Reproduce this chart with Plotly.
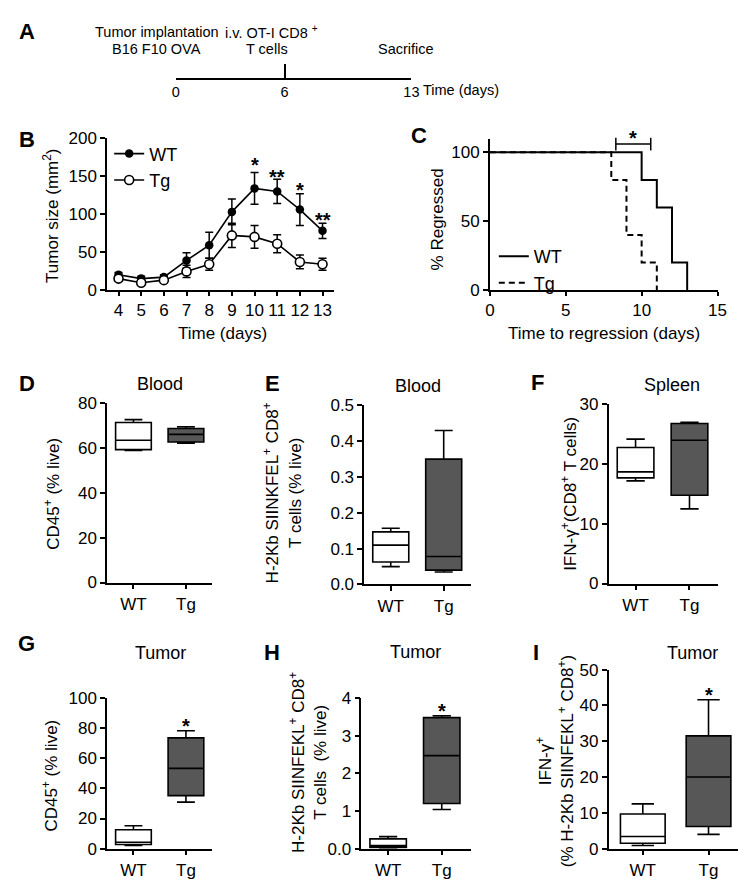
import plotly.graph_objects as go

W, H = 746, 881
def fx(p): return p / W
def fy(p): return 1 - p / H

FONT = "Arial, Liberation Sans, sans-serif"
BOLD = "Arial, Liberation Sans, sans-serif"
TS = 17  # general text size

# ---------------- data ----------------
# A timeline
timeline_days = [0, 6, 13]
timeline_labels = ["0", "6", "13"]

# B tumor growth
b_days = [4, 5, 6, 7, 8, 9, 10, 11, 12, 13]
b_wt = [20, 15, 17, 39, 59, 103, 134, 130, 106, 78]
b_wt_err = [3, 3, 3, 10, 17, 17, 21, 16, 21, 10]
b_tg = [15, 9.5, 13, 24.5, 34, 72, 70, 61, 37, 34]
b_tg_err = [3, 3, 3, 8, 8, 16, 15, 12, 9, 8]
b_sig_days = [10, 11, 12, 13]
b_sig_text = ["*", "**", "*", "**"]
b_sig_y = [171, 156, 138, 99]

# C regression
c_wt_days = [0, 10, 11, 12, 13]
c_wt_pct = [100, 80, 60, 20, 0]
c_tg_days = [0, 8, 9, 10, 11]
c_tg_pct = [100, 80, 40, 20, 0]
c_sig_days = [8.3, 10.6]
c_sig_y = 106
c_star_x, c_star_y = 9.45, 114
c_ymax = 109.5

# D–I box stats: [lower whisker, q1, median, q3, upper whisker]
groups = ["WT", "Tg"]
d_wt = [59.0, 59.4, 63.6, 71.5, 72.8]
d_tg = [62.3, 62.8, 66.2, 68.8, 69.6]
e_wt = [0.05, 0.063, 0.11, 0.147, 0.157]
e_tg = [0.035, 0.04, 0.078, 0.35, 0.43]
f_wt = [17.2, 17.7, 18.7, 22.8, 24.2]
f_tg = [12.5, 14.8, 24.0, 26.8, 27.0]
g_wt = [2.2, 2.8, 4.3, 12.6, 15.2]
g_tg = [30.9, 35.2, 53.3, 73.5, 78.3]
h_wt = [0.02, 0.035, 0.08, 0.26, 0.32]
h_tg = [1.04, 1.2, 2.47, 3.48, 3.53]
i_wt = [0.9, 1.5, 3.4, 9.7, 12.5]
i_tg = [4.0, 6.2, 20.0, 31.5, 41.6]
g_star_y = 84.8
h_star_y = 3.79
i_star_y = 44.4

# ---------------- figure ----------------
fig = go.Figure()
layout = dict(width=W, height=H, margin=dict(l=0, r=0, t=0, b=0),
              paper_bgcolor="white", plot_bgcolor="white",
              font=dict(family=FONT, size=TS, color="black"),
              showlegend=True)

def axes(idx, xd, yd, xr, yr, xtv=None, xtt=None, ytv=None, ytt=None):
    sx = "" if idx == 1 else str(idx)
    common = dict(showline=True, linecolor="black", linewidth=1.6, ticks="outside",
                  ticklen=5, tickwidth=1.6, tickcolor="black", showgrid=False,
                  zeroline=False, tickfont=dict(size=TS, color="black", family=FONT),
                  fixedrange=True)
    xa = dict(domain=[fx(xd[0]), fx(xd[1])], range=xr, anchor="y" + sx, **common)
    ya = dict(domain=[fy(yd[0]), fy(yd[1])], range=yr, anchor="x" + sx, **common)
    if xtv is not None:
        xa.update(tickmode="array", tickvals=xtv, ticktext=xtt)
    if ytv is not None:
        ya.update(tickmode="array", tickvals=ytv, ticktext=ytt)
    layout["xaxis" + sx] = xa
    layout["yaxis" + sx] = ya

# A
axes(1, (166, 406), (62, 50), [0, 13], [0, 1], timeline_days, timeline_labels)
layout["xaxis"].update(ticks="inside", ticklen=14, tickfont=dict(size=14.5, color="black", family=FONT))
layout["yaxis"].update(visible=False)
fig.add_trace(go.Scatter(x=timeline_days, y=[0, 0, 0], mode="markers", marker=dict(opacity=0),
                         xaxis="x", yaxis="y", showlegend=False, hoverinfo="skip"))

# B
axes(2, (96, 327), (279, 124), [3.5, 13.5], [0, 200], b_days, [str(d) for d in b_days],
     [0, 50, 100, 150, 200], ["0", "50", "100", "150", "200"])
layout["xaxis2"].update(ticklen=4)
fig.add_trace(go.Scatter(x=b_days, y=b_wt, mode="lines+markers", name="WT",
                         line=dict(color="black", width=1.6),
                         marker=dict(color="black", size=8.5),
                         error_y=dict(type="data", array=b_wt_err, color="black", thickness=1.5, width=4),
                         xaxis="x2", yaxis="y2", legend="legend"))
fig.add_trace(go.Scatter(x=b_days, y=b_tg, mode="lines+markers", name="Tg",
                         line=dict(color="black", width=1.6),
                         marker=dict(color="white", size=9, line=dict(color="black", width=1.6)),
                         error_y=dict(type="data", array=b_tg_err, color="black", thickness=1.5, width=4),
                         xaxis="x2", yaxis="y2", legend="legend"))

# C
axes(3, (486, 718), (279, 125), [0, 15], [0, c_ymax], [0, 5, 10, 15], ["0", "5", "10", "15"],
     [0, 50, 100], ["0", "50", "100"])
layout["xaxis3"].update(ticklen=4)
fig.add_trace(go.Scatter(x=c_wt_days, y=c_wt_pct, mode="lines", name="WT", line_shape="hv",
                         line=dict(color="black", width=2), xaxis="x3", yaxis="y3", legend="legend2"))
fig.add_trace(go.Scatter(x=c_tg_days, y=c_tg_pct, mode="lines", name="Tg", line_shape="hv",
                         line=dict(color="black", width=2, dash="6px,4px"),
                         xaxis="x3", yaxis="y3", legend="legend2"))
fig.add_trace(go.Scatter(x=c_sig_days, y=[c_sig_y, c_sig_y], mode="lines+markers",
                         line=dict(color="black", width=1.5), cliponaxis=False,
                         marker=dict(symbol="line-ns", size=9, line=dict(color="black", width=1.5)),
                         xaxis="x3", yaxis="y3", showlegend=False, hoverinfo="skip"))

# Box panels
box_specs = [
    (4, (96, 203), (578, 395), [-0.5, 1.5], [0, 80], [0, 20, 40, 60, 80], ["0", "20", "40", "60", "80"], d_wt, d_tg),
    (5, (358, 467), (580, 397), [-0.5, 1.52], [0, 0.5], [0, 0.1, 0.2, 0.3, 0.4, 0.5],
     ["0.0", "0.1", "0.2", "0.3", "0.4", "0.5"], e_wt, e_tg),
    (6, (607, 718), (579, 396), [-0.5, 1.52], [0, 30], [0, 10, 20, 30], ["0", "10", "20", "30"], f_wt, f_tg),
    (7, (96, 203), (850, 696), [-0.5, 1.5], [0, 100], [0, 20, 40, 60, 80, 100],
     ["0", "20", "40", "60", "80", "100"], g_wt, g_tg),
    (8, (355, 467), (850, 696), [-0.5, 1.55], [0, 4], [0, 1, 2, 3, 4], ["0.0", "1", "2", "3", "4"], h_wt, h_tg),
    (9, (607, 745), (850, 667), [-0.52, 1.54], [0, 50], [0, 10, 20, 30, 40, 50],
     ["0", "10", "20", "30", "40", "50"], i_wt, i_tg),
]
for idx, xd, yd, xr, yr, ytv, ytt, wt, tg in box_specs:
    axes(idx, xd, yd, xr, yr, None, None, ytv, ytt)
    layout["xaxis%d" % idx].update(type="category")
    for grp, st, fill in ((groups[0], wt, "white"), (groups[1], tg, "#575757")):
        fig.add_trace(go.Box(x=[grp], lowerfence=[st[0]], q1=[st[1]], median=[st[2]], q3=[st[3]],
                             upperfence=[st[4]], width=0.68, whiskerwidth=0.5, fillcolor=fill,
                             line=dict(color="black", width=1.6), boxpoints=False,
                             xaxis="x%d" % idx, yaxis="y%d" % idx, showlegend=False, hoverinfo="skip"))

# Legends
layout["legend"] = dict(x=fx(98), y=fy(121), xanchor="left", yanchor="top",
                        font=dict(size=TS + 1, family=FONT), bgcolor="rgba(0,0,0,0)",
                        tracegroupgap=0, itemwidth=30)
layout["legend2"] = dict(x=fx(490), y=fy(226), xanchor="left", yanchor="top",
                         font=dict(size=TS + 1, family=FONT), bgcolor="rgba(0,0,0,0)",
                         tracegroupgap=0, itemwidth=30)

ann = []
def A(text, x, y, size=TS, angle=0, xref="paper", yref="paper", family=FONT, xanchor="center",
      yanchor="middle", xshift=0, yshift=0):
    ann.append(dict(text=text, x=x, y=y, xref=xref, yref=yref, showarrow=False, textangle=angle,
                    font=dict(size=size, family=family, color="black"), xanchor=xanchor,
                    yanchor=yanchor, xshift=xshift, yshift=yshift))

# panel letters
for t, x, y in [("A", 14, 15), ("B", 14, 125), ("C", 414, 121), ("D", 14, 375), ("E", 264, 375),
                ("F", 535, 374), ("G", 14, 640), ("H", 264, 649), ("I", 533, 649)]:
    A("<b>%s</b>" % t, fx(x), fy(y), size=22, family=BOLD)

# A texts
AS = 14.5
A("Tumor implantation", fx(147), fy(15), size=AS)
A("B16 F10 OVA", fx(146), fy(33), size=AS)
A("i.v. OT-I CD8 <sup>+</sup>", fx(263), fy(15), size=AS)
A("T cells", fx(259), fy(33), size=AS)
A("Sacrifice", fx(401), fy(33), size=AS)
A("Time (days)", fx(457), fy(75), size=AS)

# B/C titles
A("Tumor size (mm<sup>2</sup>)", fx(38), fy(203), angle=-90)
A("Time (days)", fx(214), fy(323))
A("% Regressed", fx(433), fy(207), angle=-90)
A("Time to regression (days)", fx(602), fy(323))

# significance
for d, t, y in zip(b_sig_days, b_sig_text, b_sig_y):
    A("<b>%s</b>" % t, d, y, size=20, xref="x2", yref="y2", family=BOLD, yshift=-5)
A("<b>*</b>", c_star_x, c_star_y / c_ymax, size=20, xref="x3", yref="y3 domain", family=BOLD, yshift=-5)
A("<b>*</b>", "Tg", g_star_y, size=20, xref="x7", yref="y7", family=BOLD, yshift=-5)
A("<b>*</b>", "Tg", h_star_y, size=20, xref="x8", yref="y8", family=BOLD, yshift=-5)
A("<b>*</b>", "Tg", i_star_y, size=20, xref="x9", yref="y9", family=BOLD, yshift=-5)

# D-I titles
A("Blood", fx(150), fy(375), size=TS + 1)
A("Blood", fx(413), fy(377), size=TS + 1)
A("Spleen", fx(672), fy(376), size=TS + 1)
A("Tumor", fx(150), fy(650), size=TS + 1)
A("Tumor", fx(410), fy(649), size=TS + 1)
A("Tumor", fx(692), fy(650), size=TS + 1)

A("CD45<sup>+</sup> (% live)", fx(40), fy(487), angle=-90)
A("H-2Kb SIINKFEL<sup>+</sup> CD8<sup>+</sup><br>T cells (% live)", fx(274), fy(486), angle=-90)
A("IFN-γ<sup>+</sup>(CD8<sup>+</sup> T cells)", fx(567), fy(487), angle=-90)
A("CD45<sup>+</sup> (% live)", fx(38), fy(775), angle=-90)
A("H-2Kb SIINFEKL<sup>+</sup> CD8<sup>+</sup><br>T cells  (% live)", fx(300), fy(762), angle=-90)
A("IFN-γ<sup>+</sup><br>(% H-2Kb SIINFEKL<sup>+</sup> CD8<sup>+</sup>)", fx(552), fy(761), angle=-90)

layout["annotations"] = ann
fig.update_layout(**layout)
fig.write_html("out.html")
